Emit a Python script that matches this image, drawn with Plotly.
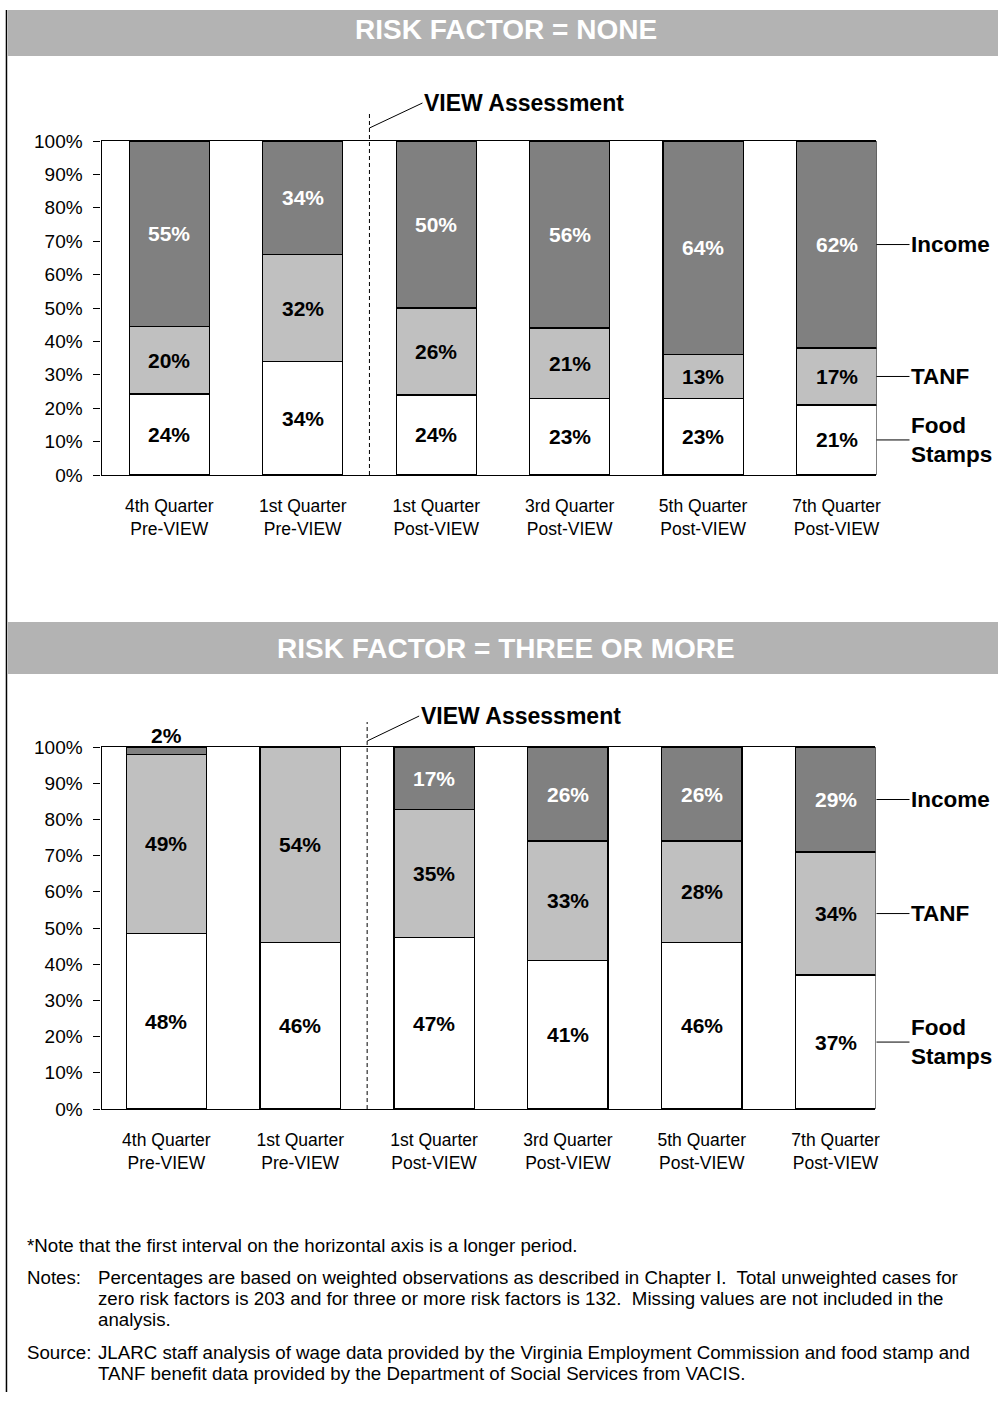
import plotly.graph_objects as go

W, H = 1002, 1403
FONT = "Liberation Sans, Arial, sans-serif"

# categories along the horizontal axis
categories = [
    "4th Quarter<br>Pre-VIEW",
    "1st Quarter<br>Pre-VIEW",
    "1st Quarter<br>Post-VIEW",
    "3rd Quarter<br>Post-VIEW",
    "5th Quarter<br>Post-VIEW",
    "7th Quarter<br>Post-VIEW",
]
series_names = ["Food Stamps", "TANF", "Income"]

# risk factor = none
none_food = [24, 34, 24, 23, 23, 21]
none_tanf = [20, 32, 26, 21, 13, 17]
none_income = [55, 34, 50, 56, 64, 62]

# risk factor = three or more
three_food = [48, 46, 47, 41, 46, 37]
three_tanf = [49, 54, 35, 33, 28, 34]
three_income = [2, 0, 17, 26, 26, 29]

y_ticks = list(range(0, 101, 10))
y_ticktext = [f"{v}%" for v in y_ticks]

fill_colors = ["#ffffff", "#c0c0c0", "#808080"]
text_colors = ["black", "black", "white"]

# the captured picture comes back slightly squeezed and pushed down,
# so vertical pixel targets are mapped back through that here
Y_OFF, Y_SCALE = 10, 0.985


def px_x(p):
    return p / W


def px_y(p):
    d = (p - Y_OFF) / Y_SCALE
    return min(1, max(0, 1 - d / H))


fig = go.Figure()

panels = [
    dict(title="RISK FACTOR = NONE", data=[none_food, none_tanf, none_income],
         xa="x", ya="y", bar=(3, 56), plot=(141, 475), xr=(-0.507, 5.299),
         xd=(102, 880), dash_top=114, tip=(128, 53, -25)),
    dict(title="RISK FACTOR = THREE OR MORE", data=[three_food, three_tanf, three_income],
         xa="x2", ya="y2", bar=(622, 674), plot=(747, 1109), xr=(-0.484, 5.298),
         xd=(102, 879), dash_top=722, tip=(741, 52, -25)),
]

shapes = []
annotations = []

# left page border
shapes.append(dict(type="line", xref="paper", yref="paper", x0=px_x(6.5), x1=px_x(6.5),
                   y0=1, y1=px_y(1400), line=dict(color="black", width=1.5)))

for k, p in enumerate(panels):
    xs = list(range(len(categories)))
    total = [sum(d[i] for d in p["data"]) for i in xs]
    for s, vals in enumerate(p["data"]):
        # segments too thin for a label get it written above the bar instead
        small = [0 < v / t * 100 < 5 for v, t in zip(vals, total)]
        fig.add_trace(go.Bar(
            x=xs, y=[v if v else None for v in vals], name=series_names[s],
            xaxis=p["xa"], yaxis=p["ya"],
            width=0.6, marker=dict(color=fill_colors[s], line=dict(color="black", width=1.3)),
            showlegend=False, hoverinfo="skip",
        ))
        # segment labels, centred in each stacked segment
        base = [sum(p["data"][j][i] for j in range(s)) for i in xs]
        for i, v in enumerate(vals):
            if not v:
                continue
            if small[i]:
                annotations.append(dict(text=f"{v}%", xref=p["xa"], yref=p["ya"],
                                        x=i, y=100, showarrow=False, yanchor="bottom",
                                        yshift=-2,
                                        font=dict(family=FONT, size=21, color="black",
                                                  weight="bold")))
            else:
                annotations.append(dict(text=f"{v}%", xref=p["xa"], yref=p["ya"],
                                        x=i, y=(base[i] + v / 2) / total[i] * 100,
                                        showarrow=False, yanchor="middle",
                                        font=dict(family=FONT, size=21,
                                                  color=text_colors[s], weight="bold")))

    # grey header band with title
    b0, b1 = p["bar"]
    shapes.append(dict(type="rect", xref="paper", yref="paper", x0=px_x(8), x1=1,
                       y0=px_y(b1), y1=px_y(b0), fillcolor="#b3b3b3", line=dict(width=0),
                       layer="below"))
    annotations.append(dict(text=p["title"], xref="paper", yref="paper", x=px_x(508),
                            y=px_y((b0 + b1) / 2), showarrow=False, xanchor="center",
                            yanchor="middle",
                            font=dict(family=FONT, size=28, color="white", weight="bold")))

    # VIEW assessment divider
    shapes.append(dict(type="line", xref=p["xa"], yref="paper", x0=1.5, x1=1.5,
                       y0=px_y(p["plot"][1]), y1=px_y(p["dash_top"]),
                       line=dict(color="black", width=1, dash="4px,3px")))
    ty, ax, ay = p["tip"]
    annotations.append(dict(text="VIEW Assessment", xref=p["xa"], yref="paper", x=1.5,
                            y=px_y(ty), ax=ax, ay=ay, showarrow=True, arrowhead=0,
                            arrowwidth=1, arrowcolor="black", standoff=0,
                            xanchor="left", yanchor="middle",
                            font=dict(family=FONT, size=23, color="black", weight="bold")))

    # series labels pointing at the segments of the last bar
    last = [vals[-1] for vals in p["data"]]
    total_last = sum(last)
    acc = 0
    labels = ["Food<br>Stamps", "TANF", "Income"]
    for s, v in enumerate(last):
        mid = (acc + v / 2) / total_last * 100
        acc += v
        annotations.append(dict(text=labels[s], xref="paper", yref=p["ya"], x=px_x(880),
                                y=mid, ax=33, ay=0, showarrow=True, arrowhead=0,
                                arrowwidth=1, arrowcolor="black", standoff=0,
                                xanchor="left", yanchor="middle", align="left",
                                font=dict(family=FONT, size=22.5, color="black",
                                          weight="bold")))

# footnotes
note_font = dict(family=FONT, size=18.7, color="black")
notes = [
    (25, 1245, "*Note that the first interval on the horizontal axis is a longer period."),
    (25, 1277, "Notes:"),
    (96, 1277, "Percentages are based on weighted observations as described in Chapter I.  Total unweighted cases for"),
    (96, 1298, "zero risk factors is 203 and for three or more risk factors is 132.  Missing values are not included in the"),
    (96, 1319, "analysis."),
    (25, 1352, "Source:"),
    (96, 1352, "JLARC staff analysis of wage data provided by the Virginia Employment Commission and food stamp and"),
    (96, 1373, "TANF benefit data provided by the Department of Social Services from VACIS."),
]
for nx, ny, txt in notes:
    annotations.append(dict(text=txt, xref="paper", yref="paper", x=px_x(nx), y=px_y(ny),
                            showarrow=False, xanchor="left", yanchor="middle", font=note_font))

layout_axes = {}
for k, p in enumerate(panels):
    sfx = "" if k == 0 else str(k + 1)
    layout_axes["xaxis" + sfx] = dict(
        domain=[px_x(p["xd"][0]), px_x(p["xd"][1])], range=list(p["xr"]),
        anchor=p["ya"], tickvals=list(range(len(categories))), ticktext=categories,
        ticks="", showline=True, mirror=True, linecolor="black", linewidth=1.3,
        showgrid=False, zeroline=False, fixedrange=True,
        tickfont=dict(family=FONT, size=17.5, color="black"), ticklabelstandoff=15,
    )
    layout_axes["yaxis" + sfx] = dict(
        domain=[px_y(p["plot"][1]), px_y(p["plot"][0])], range=[0, 100],
        anchor=p["xa"], tickvals=y_ticks, ticktext=y_ticktext, ticks="outside", ticklen=7,
        tickwidth=1.3, tickcolor="black", showline=True, linecolor="black", linewidth=1.3,
        showgrid=False, zeroline=False, fixedrange=True, ticklabelstandoff=7,
        tickfont=dict(family=FONT, size=19, color="black"),
    )

fig.update_layout(
    width=W, height=H, margin=dict(l=0, r=0, t=0, b=0),
    paper_bgcolor="white", plot_bgcolor="white",
    barmode="stack", barnorm="percent",
    shapes=shapes, annotations=annotations, showlegend=False,
    **layout_axes,
)

pin_plot = (
    "document.documentElement.style.overflow='hidden';"
    "document.body.style.margin='0';document.body.style.overflow='hidden';"
    "var gd=document.getElementById('{plot_id}');"
    "gd.style.position='fixed';gd.style.left='0px';gd.style.top='0px';"
)
fig.write_html("out.html", config={"displayModeBar": False}, post_script=pin_plot)
